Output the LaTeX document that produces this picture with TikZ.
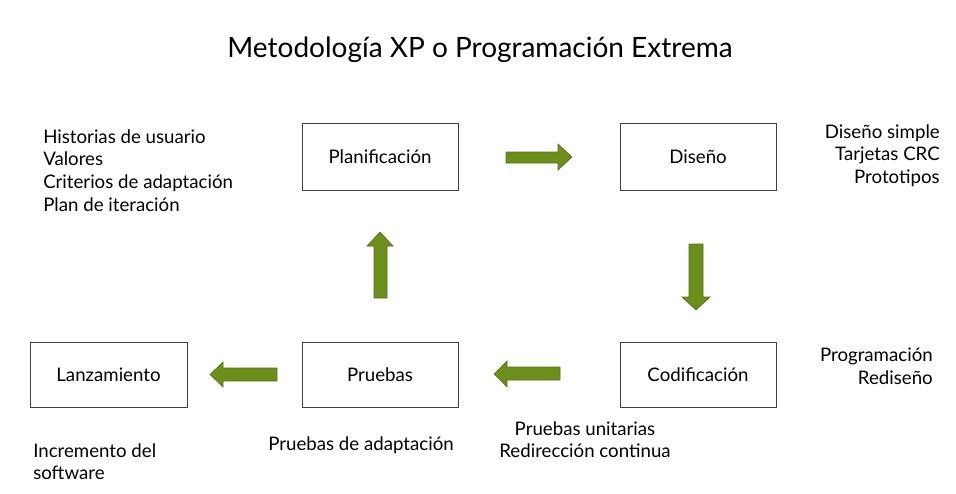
\documentclass[tikz,border=0pt]{standalone}
\usepackage{fontspec}
\setmainfont{Lato}
\begin{document}
\begin{tikzpicture}[x=0.75pt,y=-0.75pt,
  stagebox/.style={draw=black!75,line width=0.6pt,fill=white},
  stagelabel/.style={font=\fontsize{14}{16}\selectfont,inner sep=0pt},
  note/.style={font=\fontsize{14}{17}\selectfont,inner sep=0pt},
  blockarrow/.style={fill=olivefill,draw=oliveline,line width=0.5pt,line join=miter}]
\definecolor{olivefill}{HTML}{6E8E1C}
\definecolor{oliveline}{HTML}{55701A}
\useasboundingbox (0,0) rectangle (956,493);
% title
\node[inner sep=0pt,font=\fontsize{21}{25}\selectfont] (title) at (480,50) {Metodología XP o Programación Extrema};
% boxes
\draw[stagebox] (302,123) rectangle (458,190);
\node[stagelabel] (plan) at (380,157) {Planificación};
\draw[stagebox] (620,123) rectangle (776,190);
\node[stagelabel] (dis) at (698,157) {Diseño};
\draw[stagebox] (30,342) rectangle (187,407);
\node[stagelabel] (lanz) at (108.5,375) {Lanzamiento};
\draw[stagebox] (302,342) rectangle (458,407);
\node[stagelabel] (prue) at (380,375) {Pruebas};
\draw[stagebox] (620,342) rectangle (776,407);
\node[stagelabel] (cod) at (698,375) {Codificación};
% block arrows
\draw[blockarrow] (506,152) -- (558,152) -- (558,144) -- (572,157) -- (558,170) -- (558,163) -- (506,163) -- cycle;
\draw[blockarrow] (374,298) -- (374,246) -- (367,246) -- (380,232) -- (393,246) -- (387,246) -- (387,298) -- cycle;
\draw[blockarrow] (689,244) -- (703,244) -- (703,297) -- (710,297) -- (696,310) -- (682,297) -- (689,297) -- cycle;
\draw[blockarrow] (277,368) -- (223,368) -- (223,362) -- (210,374.5) -- (223,387) -- (223,381) -- (277,381) -- cycle;
\draw[blockarrow] (560,367) -- (507,367) -- (507,361) -- (494,374) -- (507,387) -- (507,380) -- (560,380) -- cycle;
% notes
\node[note,anchor=north west,align=left] (n1) at (43,129) {Historias de usuario\\Valores\\Criterios de adaptación\\Plan de iteración};
\node[note,anchor=north east,align=right] (n2) at (940,124) {Diseño simple\\Tarjetas CRC\\Prototipos};
\node[note,anchor=north east,align=right] (n3) at (933,348) {Programación\\Rediseño};
\node[note,anchor=north,align=center] (n4) at (585,421) {Pruebas unitarias\\Redirección continua};
\node[note,anchor=north west,align=left] (n5) at (268,436) {Pruebas de adaptación};
\node[note,anchor=north west,align=left] (n6) at (33,443) {Incremento del\\software};
\end{tikzpicture}
\end{document}
